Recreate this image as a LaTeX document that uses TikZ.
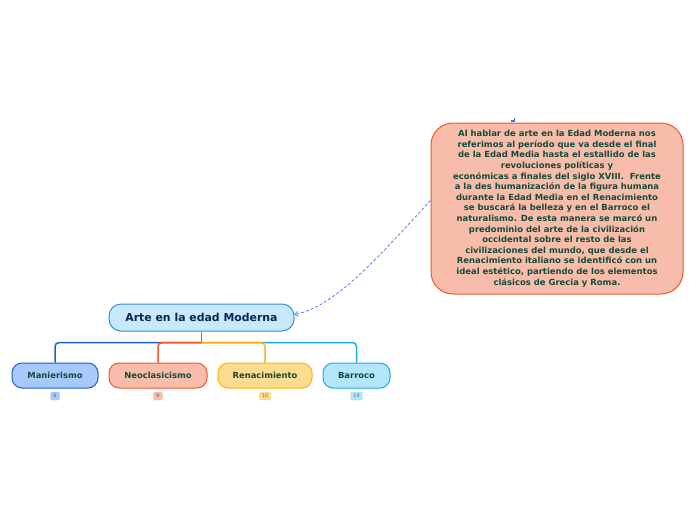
\documentclass[tikz,border=0pt]{standalone}
\usepackage{fontspec}
\setmainfont{DejaVu Sans}
\usetikzlibrary{positioning, calc, arrows.meta}
\definecolor{Navy}{HTML}{0D2550}
\definecolor{Ink}{HTML}{174A3A}
\definecolor{RootFill}{HTML}{C6EAFB}
\definecolor{RootLine}{HTML}{3B8FCC}
\definecolor{ManFill}{HTML}{A8C9FB}
\definecolor{ManLine}{HTML}{1B5FD2}
\definecolor{NeoFill}{HTML}{F8BDAA}
\definecolor{NeoLine}{HTML}{F0572B}
\definecolor{RenFill}{HTML}{FDDC8E}
\definecolor{RenLine}{HTML}{FBB217}
\definecolor{BarFill}{HTML}{B3E6FB}
\definecolor{BarLine}{HTML}{1BABE9}
\definecolor{Stem}{HTML}{4E9A9C}
\definecolor{LinkBlue}{HTML}{4A6CF2}
\tikzset{
    rootnode/.style={rectangle, rounded corners=12pt, draw=RootLine, fill=RootFill, text=Navy, line width=1pt, minimum width=185pt, minimum height=27pt, font=\bfseries\fontsize{10.9}{12}\selectfont},
    topicnode/.style={rectangle, rounded corners=10pt, line width=1pt, minimum height=25pt, text=Ink, font=\bfseries\fontsize{8.4}{9}\selectfont},
    notenode/.style={rectangle, rounded corners=22pt, draw=NeoLine, fill=NeoFill, text=Ink, line width=1pt, minimum width=252pt, minimum height=171pt, inner sep=2pt, align=center, font=\bfseries\fontsize{8.45}{10.6}\selectfont},
    badge/.style={rectangle, rounded corners=1.5pt, minimum width=9pt, minimum height=8pt, inner sep=0pt, font=\fontsize{4.8}{5}\selectfont, text=black!60},
    branch/.style={line width=1.5pt, rounded corners=4pt},
    link/.style={-{Straight Barb[length=3pt, width=5pt]}, dashed, dash pattern=on 3pt off 2pt, line width=0.7pt, color=LinkBlue},
}

\begin{document}
\begin{tikzpicture}[x=1pt, y=-1pt]
    \useasboundingbox (0,0) rectangle (696,520);

    % Nodo centrale
    \node[rootnode] (root) at (201.5,317.5) {Arte en la edad Moderna};

    % Sottotemi
    \node[topicnode, draw=ManLine, fill=ManFill, minimum width=86pt] (man) at (55,375.5) {Manierismo};
    \node[topicnode, draw=NeoLine, fill=NeoFill, minimum width=98pt] (neo) at (158,375.5) {Neoclasicismo};
    \node[topicnode, draw=RenLine, fill=RenFill, minimum width=94pt] (ren) at (265,375.5) {Renacimiento};
    \node[topicnode, draw=BarLine, fill=BarFill, minimum width=67pt] (bar) at (356.5,375.5) {Barroco};

    % Contatori
    \node[badge, fill=ManFill, draw=ManLine!40] (manb) at (55,396) {8};
    \node[badge, fill=NeoFill, draw=NeoLine!40] (neob) at (158,396) {9};
    \node[badge, fill=RenFill, draw=RenLine!40, minimum width=12pt] (renb) at (265,396) {10};
    \node[badge, fill=BarFill, draw=BarLine!40, minimum width=12pt] (barb) at (356.5,396) {10};

    % Rami
    \coordinate (hub) at ($(root.south)+(0,11)$);
    \draw[branch, ManLine] (hub) -| (man.north);
    \draw[branch, BarLine] (hub) -| (bar.north);
    \draw[branch, RenLine] (hub) -| (ren.north);
    \draw[branch, NeoLine] (hub) -| (neo.north);
    \draw[line width=1.5pt, Stem] (root.south) -- (hub);

    % Nota
    \node[notenode] (note) at (557,208.5) {Al hablar de arte en la Edad Moderna nos\\
        referimos al período que va desde el final\\
        de la Edad Media hasta el estallido de las\\
        revoluciones políticas y\\
        económicas a finales del siglo XVIII.\ \ Frente\\
        a la des humanización de la figura humana\\
        durante la Edad Media en el Renacimiento\\
        se buscará la belleza y en el Barroco el\\
        naturalismo. De esta manera se marcó un\\
        predominio del arte de la civilización\\
        occidental sobre el resto de las\\
        civilizaciones del mundo, que desde el\\
        Renacimiento italiano se identificó con un\\
        ideal estético, partiendo de los elementos\\
        clásicos de Grecia y Roma.};
    \fill[LinkBlue] ($(note.north)+(-46,-2.5)$) rectangle ++(4,2);
    \fill[LinkBlue] ($(note.north)+(-43,-4.5)$) rectangle ++(1,3);

    % Collegamento
    \coordinate (linkstart) at ($(note.west)+(0,-8)$);
    \coordinate (linkend) at ($(root.east)+(0,-3)$);
    \draw[link] (linkstart) .. controls ($(linkstart)+(-55,60)$) and ($(linkend)+(40,-8)$) .. (linkend);

\end{tikzpicture}
\end{document}
